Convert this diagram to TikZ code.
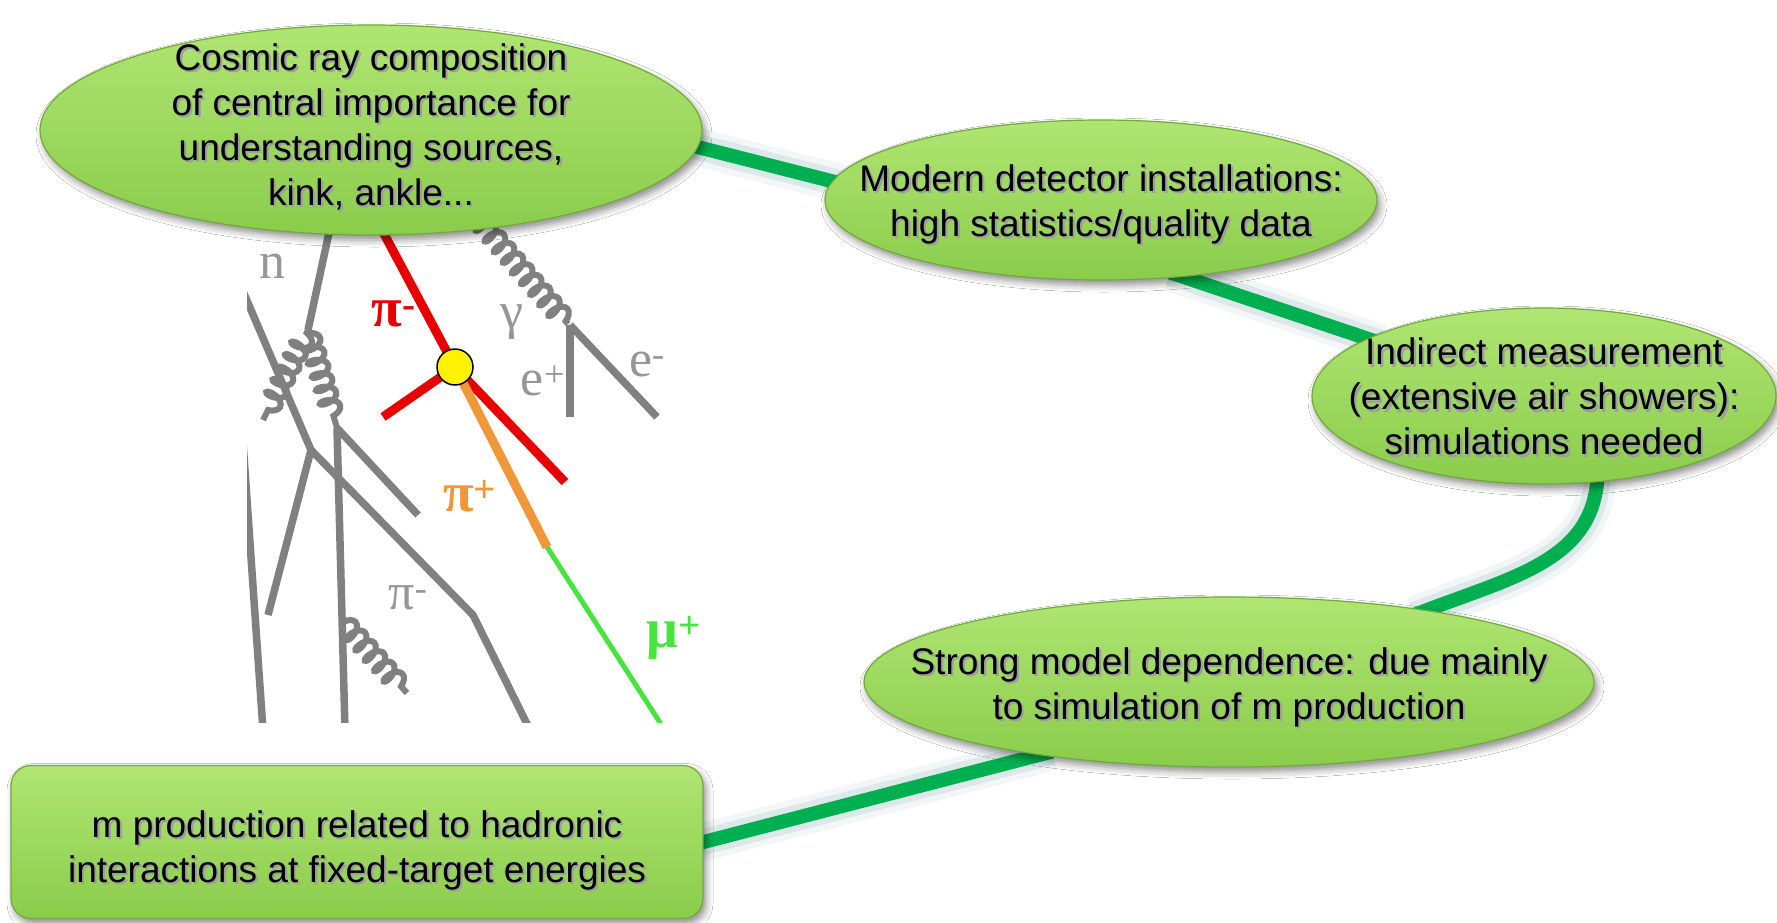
\documentclass[tikz,border=0pt]{standalone}
\usepackage{fontspec}
\setmainfont{Liberation Sans}
\newfontfamily\labfont{Liberation Serif}
\usetikzlibrary{shapes.geometric,shadows.blur,decorations.pathmorphing,backgrounds}

\definecolor{boxtop}{RGB}{176,229,114}
\definecolor{boxmid}{RGB}{157,221,95}
\definecolor{boxbot}{RGB}{138,204,76}
\definecolor{boxrim}{RGB}{112,170,58}
\definecolor{linkgreen}{RGB}{0,176,80}
\definecolor{linkhaze}{RGB}{100,150,160}
\definecolor{trackgray}{RGB}{128,128,128}
\definecolor{labelgray}{RGB}{150,150,150}
\definecolor{pired}{RGB}{232,0,0}
\definecolor{piorange}{RGB}{242,150,58}
\definecolor{mugreen}{RGB}{72,228,62}

% text with a soft offset shadow behind it
\newcommand\shadowed[1]{\leavevmode\rlap{\kern2.2pt\raisebox{-2.4pt}[0pt][0pt]{\color{black!38}#1}}#1}
% centred block of lines that takes no room, so the shape keeps its given size
\newcommand\blocktext[2][-9pt]{\makebox[0pt]{\raisebox{#1}[0pt][0pt]{\begin{tabular}{@{}c@{}}#2\end{tabular}}}}

\begin{document}
\begin{tikzpicture}[x=1pt,y=-1pt,
  bubble/.style={ellipse, inner sep=0pt, top color=boxtop, middle color=boxmid,
    bottom color=boxbot, draw=boxrim, line width=1.2pt,
    blur shadow={shadow xshift=3pt, shadow yshift=-5pt, shadow blur radius=7pt, shadow opacity=45},
    font=\fontsize{37}{45}\selectfont},
  panel/.style={bubble, rectangle, rounded corners=20pt},
  link/.style={draw=linkgreen, line width=14pt, shorten <=-14pt, shorten >=-14pt,
    preaction={draw=linkhaze, line width=38pt, draw opacity=0.08},
    preaction={draw=linkhaze, line width=26pt, draw opacity=0.14}},
  track/.style={draw=trackgray, line width=7.5pt},
  spring/.style={track, line width=6pt, decorate,
    decoration={coil, amplitude=9.5pt, segment length=14pt, aspect=0.5, pre length=3pt, post length=3pt}},
  redtrack/.style={draw=pired, line width=9pt},
  plabel/.style={inner sep=0pt, text=labelgray, font=\labfont\fontsize{52}{52}\selectfont},
  blabel/.style={inner sep=0pt, font=\labfont\bfseries\fontsize{56}{56}\selectfont},
  vertexdot/.style={circle, draw=black, line width=1.5pt, fill=yellow, minimum size=36pt, inner sep=0pt}]

\useasboundingbox (0,0) rectangle (1777,922);

% the five statements
\node[bubble, minimum width=662pt, minimum height=210pt] (e1) at (371,130)
  {\blocktext[-5pt]{\shadowed{Cosmic ray composition}\\ \shadowed{of central importance for}\\
   \shadowed{understanding sources,}\\ \shadowed{kink, ankle...}}};
\node[bubble, minimum width=552pt, minimum height=160pt] (e2) at (1101,200)
  {\blocktext[-11pt]{\shadowed{Modern detector installations:}\\ \shadowed{high statistics/quality data}}};
\node[bubble, minimum width=464pt, minimum height=176pt] (e3) at (1544,396)
  {\blocktext[-11pt]{\shadowed{Indirect measurement}\\ \shadowed{(extensive air showers):}\\ \shadowed{simulations needed}}};
\node[bubble, minimum width=730pt, minimum height=170pt] (e4) at (1229,682)
  {\blocktext[-12pt]{\shadowed{Strong model dependence: due mainly}\\ \shadowed{to simulation of m production}}};
\node[panel, minimum width=692pt, minimum height=153pt] (rbox) at (357,842)
  {\blocktext[-15pt]{\shadowed{m production related to hadronic}\\ \shadowed{interactions at fixed-target energies}}};

\begin{scope}[on background layer]
  \fill[white] (0,0) rectangle (1777,922);

  % air shower sketch
  \begin{scope}
    \clip (247,195) rectangle (662,722);
    \draw[track] (335,205) -- (308,330);
    \draw[spring] (308,330) -- (337,428);
    \draw[spring] (308,330) -- (263,420);
    \draw[track] (337,428) -- (418,515);
    \draw[track] (337,428) -- (345,730);
    \draw[track] (236,275) -- (311,450) -- (473,615) -- (530,730);
    \draw[track] (311,450) -- (268,615);
    \draw[track] (238,370) -- (263,730);
    \draw[spring] (341,620) -- (407,693);
    \draw[spring] (462,200) -- (568,324);
    \draw[track] (570,325) -- (570,417);
    \draw[track] (570,325) -- (657,417);
    \draw[redtrack] (366,200) -- (455,367);
    \draw[redtrack] (455,367) -- (383,417);
    \draw[redtrack] (455,367) -- (565,482);
    \draw[draw=piorange, line width=9pt] (455,367) -- (547,547);
    \draw[draw=mugreen, line width=5pt] (547,547) -- (668,735);
  \end{scope}
  \node[vertexdot] (vtx) at (455,367) {};
  \node[plabel] (lbn) at (272,266) {n};
  \node[plabel] (lbgam) at (512,322) {γ};
  \node[plabel] (lbep) at (543,381) {e\textsuperscript{+}};
  \node[plabel] (lbem) at (647,364) {e\textsuperscript{-}};
  \node[plabel] (lbpig) at (408,598) {π\textsuperscript{-}};
  \node[blabel, text=pired] (lbpir) at (394,314) {π\textsuperscript{-}};
  \node[blabel, text=piorange] (lbpio) at (470,496) {π\textsuperscript{+}};
  \node[blabel, text=mugreen] (lbmu) at (674,638) {μ\textsuperscript{+}};

  % connectors between the statements
  \draw[link] (e1.-3) -- (e2.176);
  \draw[link] (e2.-43) -- (e3.162);
  \draw[link] (e3.-58) .. controls +(0,80) and +(86,-34) .. (e4.20);
  \draw[link] (e4.201) -- (rbox.east);
\end{scope}
\end{tikzpicture}
\end{document}
